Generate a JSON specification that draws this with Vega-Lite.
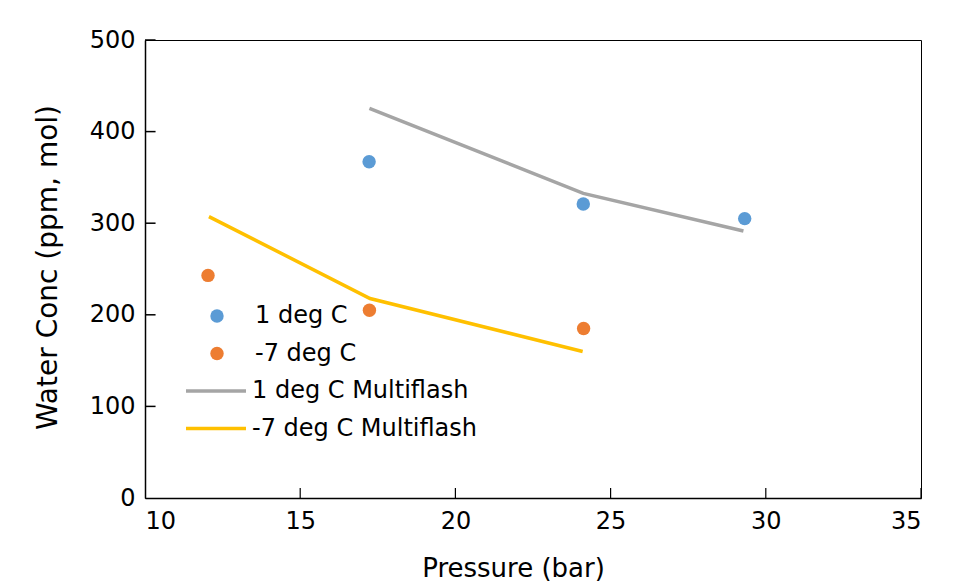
{
  "$schema": "https://vega.github.io/schema/vega-lite/v6.json",
  "width": 776,
  "height": 458,
  "autosize": {"type": "none"},
  "padding": {"left": 145, "top": 40, "right": 35, "bottom": 88},
  "background": "white",
  "config": {
    "font": "DejaVu Sans",
    "view": {"stroke": "#000", "strokeWidth": 1},
    "axis": {
      "grid": false,
      "zindex": 1,
      "domainColor": "#000",
      "domainWidth": 1.5,
      "ticks": false,
      "labelColor": "#000",
      "labelFontSize": 24,
      "titleColor": "#000",
      "titleFontSize": 26,
      "titleFontWeight": "normal"
    },
    "legend": {
      "labelFontSize": 24,
      "labelColor": "#000",
      "labelLimit": 400,
      "padding": 0,
      "clipHeight": 24,
      "rowPadding": 13.5,
      "title": null
    }
  },
  "layer": [
    {
      "data": {"values": [{"v": 15}, {"v": 20}, {"v": 25}, {"v": 30}, {"v": 35}]},
      "mark": {"type": "rule", "color": "#000", "strokeWidth": 1.2},
      "encoding": {
        "x": {
          "field": "v",
          "type": "quantitative",
          "scale": {"domain": [10, 35], "nice": false, "zero": false},
          "axis": {
            "values": [10, 15, 20, 25, 30, 35],
            "title": "Pressure (bar)",
            "labelPadding": 11,
            "titleX": 368,
            "titleY": 78,
            "titleBaseline": "alphabetic"
          }
        },
        "y": {
          "datum": 0,
          "type": "quantitative",
          "scale": {"domain": [0, 500], "nice": false},
          "axis": {
            "values": [0, 100, 200, 300, 400, 500],
            "title": "Water Conc (ppm, mol)",
            "titleFontSize": 28,
            "labelPadding": 10,
            "titleX": -89,
            "titleY": 227,
            "titleBaseline": "alphabetic"
          }
        },
        "y2": {"datum": 10.9}
      }
    },
    {
      "data": {"values": [{"v": 100}, {"v": 200}, {"v": 300}, {"v": 400}, {"v": 500}]},
      "mark": {"type": "rule", "color": "#000", "strokeWidth": 1.5},
      "encoding": {
        "y": {"field": "v", "type": "quantitative"},
        "x": {"datum": 10, "type": "quantitative"},
        "x2": {"datum": 10.34}
      }
    },
    {
      "data": {
        "values": [
          {"pressure": 17.22, "conc": 367, "series": "1 deg C"},
          {"pressure": 24.12, "conc": 321, "series": "1 deg C"},
          {"pressure": 29.32, "conc": 305, "series": "1 deg C"},
          {"pressure": 12.03, "conc": 243, "series": "-7 deg C"},
          {"pressure": 17.23, "conc": 205, "series": "-7 deg C"},
          {"pressure": 24.13, "conc": 185, "series": "-7 deg C"}
        ]
      },
      "mark": {"type": "circle", "size": 180, "opacity": 1},
      "encoding": {
        "x": {"field": "pressure", "type": "quantitative"},
        "y": {"field": "conc", "type": "quantitative"},
        "color": {
          "field": "series",
          "type": "nominal",
          "scale": {"domain": ["1 deg C", "-7 deg C"], "range": ["#5B9BD5", "#ED7D31"]},
          "legend": {
            "orient": "none",
            "legendX": 60,
            "legendY": 264,
            "symbolType": "circle",
            "symbolSize": 180,
            "symbolOpacity": 1,
            "symbolStrokeWidth": 0,
            "labelOffset": 26
          }
        }
      }
    },
    {
      "data": {
        "values": [
          {"pressure": 17.23, "conc": 425.4, "series": "1 deg C Multiflash"},
          {"pressure": 24.12, "conc": 332.6, "series": "1 deg C Multiflash"},
          {"pressure": 29.28, "conc": 291.5, "series": "1 deg C Multiflash"},
          {"pressure": 12.06, "conc": 307.2, "series": "-7 deg C Multiflash"},
          {"pressure": 17.25, "conc": 217.8, "series": "-7 deg C Multiflash"},
          {"pressure": 24.1, "conc": 160, "series": "-7 deg C Multiflash"}
        ]
      },
      "mark": {"type": "line", "strokeWidth": 3.5},
      "encoding": {
        "x": {"field": "pressure", "type": "quantitative"},
        "y": {"field": "conc", "type": "quantitative"},
        "color": {
          "field": "series",
          "type": "nominal",
          "scale": {"domain": ["1 deg C Multiflash", "-7 deg C Multiflash"], "range": ["#A5A5A5", "#FFC000"]},
          "legend": {
            "orient": "none",
            "legendX": 39,
            "legendY": 339,
            "symbolType": "stroke",
            "symbolSize": 3600,
            "symbolStrokeWidth": 3.5,
            "labelOffset": 4
          }
        }
      }
    }
  ],
  "resolve": {"scale": {"color": "independent"}}
}
